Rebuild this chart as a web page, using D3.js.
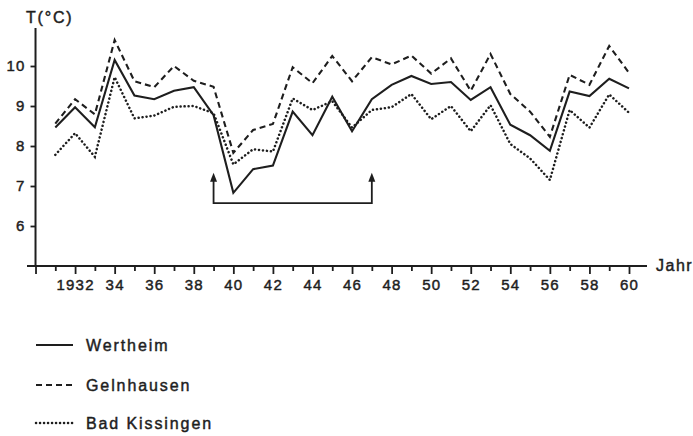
<!DOCTYPE html>
<html><head><meta charset="utf-8">
<script src="https://cdn.jsdelivr.net/npm/d3@7"></script>
<style>
body{margin:0;background:#fff;}
svg{display:block;font-family:"Liberation Sans",Arial,sans-serif;}
</style></head>
<body>
<svg id="chart" width="693" height="436"></svg>
<script>
const years = d3.range(1931, 1961);
const wertheim = [8.46,8.97,8.47,10.15,9.26,9.17,9.38,9.47,8.77,6.83,7.42,7.51,8.86,8.27,9.23,8.37,9.17,9.53,9.75,9.55,9.6,9.15,9.47,8.53,8.27,7.88,9.36,9.25,9.68,9.44];
const gelnhausen = [8.56,9.17,8.79,10.65,9.62,9.47,10.0,9.63,9.48,7.83,8.4,8.55,9.97,9.57,10.25,9.62,10.22,10.04,10.26,9.81,10.19,9.38,10.3,9.3,8.86,8.23,9.78,9.53,10.5,9.83];
const badKissingen = [7.78,8.32,7.73,9.72,8.69,8.76,8.98,9.0,8.82,7.54,7.92,7.86,9.19,8.9,9.12,8.46,8.9,8.97,9.3,8.67,9.0,8.37,9.02,8.05,7.69,7.15,8.9,8.46,9.29,8.83];
const seriesNames = ["Wertheim","Gelnhausen","Bad Kissingen"];
const yTicks = [6,7,8,9,10];
const xTickYears = d3.range(1930, 1961);
const bracketYears = [1939, 1947];
const bracketLevels = [6.57, 7.33];

const svg = d3.select("#chart");
const ink = "#1e1e1e";
const x = d3.scaleLinear().domain([1931, 1960]).range([55.3, 629]);
const y = d3.scaleLinear().domain([5, 10]).range([266, 66]);

function heavy(sel) {
  sel.attr("stroke", ink).attr("stroke-width", 0.45).attr("paint-order", "stroke");
  return sel;
}

// axes lines
svg.append("line").attr("x1", x(1930)).attr("x2", x(1930)).attr("y1", y(5)).attr("y2", y(10.95))
  .attr("stroke", ink).attr("stroke-width", 2);
svg.append("line").attr("x1", 27).attr("x2", 647).attr("y1", y(5)).attr("y2", y(5))
  .attr("stroke", ink).attr("stroke-width", 2);

// y axis
const yAx = svg.append("g").attr("transform", `translate(${x(1930)},0)`)
  .call(d3.axisLeft(y).tickValues(yTicks).tickSize(5).tickPadding(5).tickFormat(d3.format("d")));
yAx.select(".domain").remove();
yAx.selectAll("line").attr("stroke", ink).attr("stroke-width", 1.8);
heavy(yAx.selectAll("text").attr("font-size", 15).attr("letter-spacing", 1.2).attr("fill", ink)
  .attr("font-family", "Liberation Sans, Arial, sans-serif"));

// x axis
const xAx = svg.append("g").attr("transform", `translate(0,${y(5)})`)
  .call(d3.axisBottom(x).tickValues(xTickYears).tickSizeInner(8).tickSizeOuter(0).tickPadding(5)
    .tickFormat(d => d === 1930 || d % 2 ? "" : (d === 1932 ? "1932" : String(d % 100))));
xAx.select(".domain").remove();
xAx.selectAll(".tick line").attr("stroke", ink).attr("stroke-width", 1.8).attr("y1", -1)
  .attr("y2", d => (d % 2 ? 5 : 8));
heavy(xAx.selectAll("text").attr("font-size", 15).attr("letter-spacing", 1.2).attr("fill", ink)
  .attr("font-family", "Liberation Sans, Arial, sans-serif"));

// axis titles
heavy(svg.append("text").attr("x", 26).attr("y", 23).attr("font-size", 16).attr("letter-spacing", 1.8)
  .attr("fill", ink).text("T(°C)"));
heavy(svg.append("text").attr("x", 656).attr("y", 271).attr("font-size", 16).attr("letter-spacing", 1.5)
  .attr("fill", ink).text("Jahr"));

// series
const styles = [
  {dash: null, w: 2.1, cap: "butt"},
  {dash: "6,4", w: 2.1, cap: "butt"},
  {dash: "0.1,3.9", w: 2.5, cap: "round"}
];
const allSeries = [wertheim, gelnhausen, badKissingen];
const line = d3.line().x((d, i) => x(years[i])).y(d => y(d));
allSeries.forEach((s, k) => {
  svg.append("path").datum(s).attr("d", line).attr("fill", "none").attr("stroke", ink)
    .attr("stroke-width", styles[k].w).attr("stroke-dasharray", styles[k].dash)
    .attr("stroke-linecap", styles[k].cap).attr("stroke-linejoin", "miter");
});

// bracket with arrows
const bx0 = x(bracketYears[0]), bx1 = x(bracketYears[1]);
const by0 = y(bracketLevels[0]), by1 = y(bracketLevels[1]);
svg.append("path").attr("d", `M${bx0},${by1 + 6}V${by0}H${bx1}V${by1 + 6}`)
  .attr("fill", "none").attr("stroke", ink).attr("stroke-width", 1.8);
[bx0, bx1].forEach(bx => {
  svg.append("path").attr("d", `M${bx},${by1}L${bx - 3.5},${by1 + 9}L${bx + 3.5},${by1 + 9}Z`).attr("fill", ink);
});

// legend
const legY = [345, 385, 423];
seriesNames.forEach((n, k) => {
  svg.append("line").attr("x1", 36).attr("x2", 73).attr("y1", legY[k]).attr("y2", legY[k])
    .attr("stroke", ink).attr("stroke-width", styles[k].w).attr("stroke-dasharray", styles[k].dash)
    .attr("stroke-linecap", styles[k].cap);
  heavy(svg.append("text").attr("x", 86).attr("y", legY[k]).attr("dy", "0.36em").attr("font-size", 16)
    .attr("letter-spacing", 1.9).attr("fill", ink).text(n));
});
</script>
</body></html>
